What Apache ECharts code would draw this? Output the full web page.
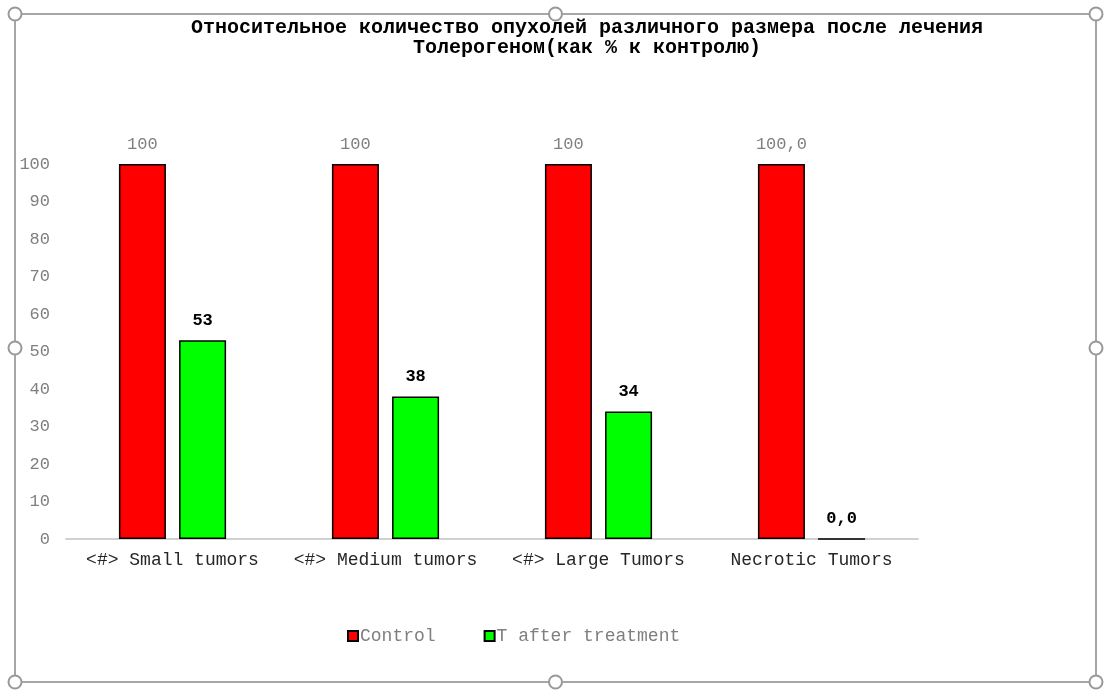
<!DOCTYPE html>
<html>
<head>
<meta charset="utf-8">
<script src="https://cdn.jsdelivr.net/npm/echarts@6/dist/echarts.min.js"></script>
<style>
  html, body { margin: 0; padding: 0; background: #fff; }
  #chart { width: 1113px; height: 700px; }
</style>
</head>
<body>
<div id="chart"></div>
<script>
// Данные графика
const categories = ['<#> Small tumors', '<#> Medium tumors', '<#> Large Tumors', 'Necrotic Tumors'];
const controlValues = [100, 100, 100, 100];
const treatedValues = [53, 38, 34, 0];
const controlLabels = ['100', '100', '100', '100,0'];
const treatedLabels = ['53', '38', '34', '0,0'];
const yTicks = [0, 10, 20, 30, 40, 50, 60, 70, 80, 90, 100];

const FONT = '"Liberation Mono", "Courier New", monospace';

const chart = echarts.init(document.getElementById('chart'));

// рамка выделения с маркерами (как в Excel)
const frame = { l: 15, t: 14, r: 1096, b: 682 };
const handles = [];
[frame.l, (frame.l + frame.r) / 2, frame.r].forEach(x => {
  [frame.t, (frame.t + frame.b) / 2, frame.b].forEach(y => {
    if (x === (frame.l + frame.r) / 2 && y === (frame.t + frame.b) / 2) return;
    handles.push({
      type: 'circle', z: 100,
      shape: { cx: x, cy: y, r: 6.5 },
      style: { fill: '#fff', stroke: '#999', lineWidth: 2 }
    });
  });
});

const option = {
  backgroundColor: '#fff',
  animation: false,
  title: {
    text: 'Относительное количество опухолей различного размера после лечения\nТолерогеном(как % к контролю)',
    left: 582,
    top: 13,
    textAlign: 'center',
    textStyle: {
      fontFamily: FONT, fontSize: 20, fontWeight: 'bold', color: '#000', lineHeight: 20
    }
  },
  legend: {
    top: 622,
    left: 342,
    itemWidth: 10, itemHeight: 10, itemGap: 48,
    icon: 'rect',
    textStyle: { fontFamily: FONT, fontSize: 18, color: '#7f7f7f', padding: [0, 0, 0, -3] },
    data: ['Control', 'T after treatment']
  },
  grid: { left: 66, right: 195, top: 164, bottom: 161, containLabel: false },
  xAxis: {
    type: 'category',
    data: categories,
    axisLine: { lineStyle: { color: '#d0d0d0', width: 2 } },
    axisTick: { show: false },
    axisLabel: { fontFamily: FONT, fontSize: 18, color: '#262626', margin: 12, interval: 0 }
  },
  yAxis: {
    type: 'value',
    min: 0, max: 100, interval: 10,
    axisLine: { show: false },
    axisTick: { show: false },
    splitLine: { show: false },
    axisLabel: {
      fontFamily: FONT, fontSize: 17, color: '#7f7f7f', margin: 16,
      formatter: v => yTicks.includes(v) ? String(v) : ''
    }
  },
  series: [
    {
      name: 'Control',
      type: 'bar',
      data: controlValues,
      barWidth: 47,
      barGap: '28%',
      itemStyle: { color: '#ff0000', borderColor: '#000', borderWidth: 1.5 },
      label: {
        show: true, position: 'top', distance: 11,
        fontFamily: FONT, fontSize: 17, color: '#7f7f7f',
        formatter: p => controlLabels[p.dataIndex]
      }
    },
    {
      name: 'T after treatment',
      type: 'bar',
      data: treatedValues,
      barWidth: 47,
      itemStyle: { color: '#00ff00', borderColor: '#000', borderWidth: 1.5 },
      label: {
        show: true, position: 'top', distance: 11,
        fontFamily: FONT, fontSize: 17, fontWeight: 'bold', color: '#000',
        formatter: p => treatedLabels[p.dataIndex]
      }
    }
  ],
  graphic: [
    {
      type: 'rect', z: 99,
      shape: { x: frame.l, y: frame.t, width: frame.r - frame.l, height: frame.b - frame.t },
      style: { fill: 'none', stroke: '#a6a6a6', lineWidth: 2 }
    }
  ].concat(handles)
};

chart.setOption(option);
</script>
</body>
</html>
